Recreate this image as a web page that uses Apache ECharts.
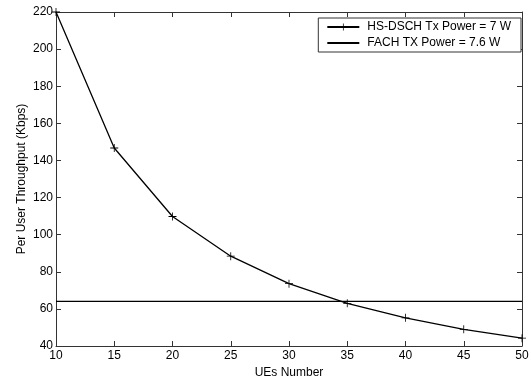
<!DOCTYPE html>
<html>
<head>
<meta charset="utf-8">
<script src="https://cdn.jsdelivr.net/npm/echarts@6/dist/echarts.min.js"></script>
<style>html,body{margin:0;padding:0;background:#fff}#c{width:531px;height:379px}</style>
</head>
<body>
<div id="c"></div>
<script>
const ues = [10, 15, 20, 25, 30, 35, 40, 45, 50];
const hsdschThroughput = [220, 146.7, 109.8, 88.4, 73.6, 63.0, 55.2, 49.0, 44.2];
const fachThroughput = 64;
const xTicks = [10, 15, 20, 25, 30, 35, 40, 45, 50];
const yTicks = [40, 60, 80, 100, 120, 140, 160, 180, 200, 220];

const font = 'Liberation Sans, Arial, sans-serif';
const axisColor = '#333';
const plus = 'path://M4.5,0H5.5V4.5H10V5.5H5.5V10H4.5V5.5H0V4.5H4.5Z';

const chart = echarts.init(document.getElementById('c'));
const baseX = {
  type: 'value', min: 10, max: 50, interval: 5,
  axisLine: {show: true, onZero: false, lineStyle: {color: axisColor, width: 1}},
  axisTick: {show: true, inside: true, length: 5, lineStyle: {color: axisColor}},
  splitLine: {show: false}
};
const baseY = {
  type: 'value', min: 40, max: 220, interval: 20,
  axisLine: {show: true, onZero: false, lineStyle: {color: axisColor, width: 1}},
  axisTick: {show: true, inside: true, length: 5, lineStyle: {color: axisColor}},
  splitLine: {show: false}
};
chart.setOption({
  animation: false,
  backgroundColor: '#fff',
  textStyle: {fontFamily: font},
  grid: {left: 56, top: 12, right: 9, bottom: 33, containLabel: false, outerBoundsMode: 'none'},
  legend: {
    right: 10, top: 18, orient: 'vertical',
    backgroundColor: '#fff', borderColor: '#333', borderWidth: 1, borderRadius: 0,
    padding: [3, 10, 3, 8], itemGap: 4, itemWidth: 32, itemHeight: 9,
    textStyle: {fontFamily: font, fontSize: 12, color: '#000', padding: [0, 0, 0, 3]},
    data: ['HS-DSCH Tx Power = 7 W', 'FACH TX Power = 7.6 W']
  },
  xAxis: [
    Object.assign({}, baseX, {
      position: 'bottom', name: 'UEs Number', nameLocation: 'middle', nameGap: 21,
      nameMoveOverlap: false,
      nameTextStyle: {fontFamily: font, fontSize: 12, color: '#000'},
      axisLabel: {show: true, margin: 4, fontFamily: font, fontSize: 12, color: '#000',
        formatter: v => xTicks.includes(v) ? String(v) : ''}
    }),
    Object.assign({}, baseX, {position: 'top', axisLabel: {show: false}})
  ],
  yAxis: [
    Object.assign({}, baseY, {
      position: 'left', name: 'Per User Throughput (Kbps)', nameLocation: 'middle', nameGap: 28,
      nameMoveOverlap: false,
      nameTextStyle: {fontFamily: font, fontSize: 12, color: '#000'},
      axisLabel: {show: true, margin: 3, fontFamily: font, fontSize: 12, color: '#000',
        formatter: v => yTicks.includes(v) ? String(v) : ''}
    }),
    Object.assign({}, baseY, {position: 'right', axisLabel: {show: false}})
  ],
  series: [
    {
      name: 'HS-DSCH Tx Power = 7 W', type: 'line', smooth: false,
      data: ues.map((u, i) => [u, hsdschThroughput[i]]),
      symbol: plus, symbolSize: 8, showSymbol: true,
      lineStyle: {color: '#000', width: 1.3},
      itemStyle: {color: '#000', borderWidth: 0}
    },
    {
      name: 'FACH TX Power = 7.6 W', type: 'line',
      data: [[ues[0], fachThroughput], [ues[ues.length - 1], fachThroughput]],
      symbol: plus, showSymbol: false, symbolSize: 0,
      lineStyle: {color: '#000', width: 1.3},
      itemStyle: {color: 'rgba(0,0,0,0)', borderWidth: 0}
    }
  ]
});
</script>
</body>
</html>
